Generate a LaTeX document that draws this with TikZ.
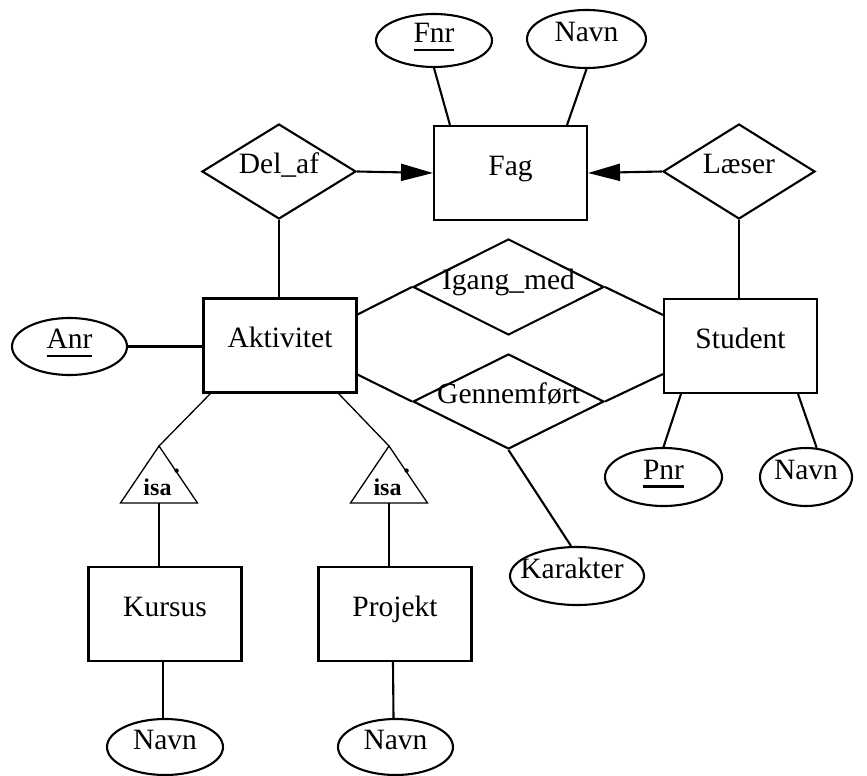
\documentclass[tikz,border=0pt]{standalone}
\usepackage{fontspec}
\setmainfont{Liberation Serif}
\usetikzlibrary{shapes.geometric,arrows.meta}
% centred label that does not widen its node
\newcommand\erlabel[1]{\makebox[0pt]{#1}}
% key attribute: text with a thick underline
\newcommand\keyattr[1]{\setbox0\hbox{#1}\rlap{\rule[-8.5pt]{\wd0}{2.3pt}}\box0}
\begin{document}
\begin{tikzpicture}[x=1pt,y=-1pt,
  every node/.style={font=\fontsize{29.5}{32}\selectfont, inner sep=0pt,
    text height=0.66em, text depth=0.24em},
  entity/.style={draw, line width=2.1pt, rectangle, minimum width=153pt, minimum height=94pt},
  relship/.style={draw, line width=2.1pt, diamond},
  attr/.style={draw, line width=2.1pt, ellipse},
  link/.style={line width=2.1pt},
  thinlink/.style={line width=1.3pt},
  tip/.style={-{Triangle[length=32pt,width=17pt]}},
  isatext/.style={font=\bfseries\fontsize{24}{26}\selectfont}
]
\useasboundingbox (0,0) rectangle (867,776);

% entities
\node[entity] (fag)  at (510.5,173)   {\erlabel{Fag}};
\node[entity] (akt)  at (280,345.5)   {\erlabel{Aktivitet}};
\node[entity] (stud) at (740.5,346)   {\erlabel{Student}};
\node[entity] (kurs) at (165,614)     {\erlabel{Kursus}};
\node[entity] (proj) at (395,614)     {\erlabel{Projekt}};

% relationships
\node[relship, minimum width=154pt, minimum height=95pt] (delaf)  at (279,171.5) {\erlabel{Del\_af}};
\node[relship, minimum width=152pt, minimum height=95pt] (laeser) at (739,171.5) {\erlabel{Læser}};
\node[relship, minimum width=191pt, minimum height=96pt] (igang)  at (508.5,287) {\erlabel{Igang\_med}};
\node[relship, minimum width=191pt, minimum height=95pt] (gen)    at (508.5,401.5) {\erlabel{Gennemført}};

% attributes
\node[attr, minimum width=116pt, minimum height=53pt] (fnr)   at (434,40.5)  {\erlabel{\keyattr{Fnr}}};
\node[attr, minimum width=119pt, minimum height=58pt] (navn1) at (586.5,39)  {\erlabel{Navn}};
\node[attr, minimum width=115pt, minimum height=57pt] (anr)   at (69.5,346.5) {\erlabel{\keyattr{Anr}}};
\node[attr, minimum width=117pt, minimum height=58pt] (pnr)   at (663.5,477) {\erlabel{\keyattr{Pnr}}};
\node[attr, minimum width=92pt,  minimum height=58pt] (navn2) at (806,477)   {\erlabel{Navn}};
\node[attr, minimum width=134pt, minimum height=58pt] (kar)   at (577,576)   {\erlabel{Karakter\kern10pt}};
\node[attr, minimum width=116pt, minimum height=56pt] (navn3) at (165,747)   {\erlabel{Navn}};
\node[attr, minimum width=115pt, minimum height=56pt] (navn4) at (395.5,747) {\erlabel{Navn}};

% isa triangles
\coordinate (isa1) at (159,446);
\coordinate (isa1base) at (159,503);
\coordinate (isa2) at (389,446);
\coordinate (isa2base) at (389,503);
\draw[thinlink] (isa1) -- ++(-38.5,57) -- ++(77,0) -- cycle;
\draw[thinlink] (isa2) -- ++(-38.5,57) -- ++(77,0) -- cycle;
\node[isatext] (isa1t) at (157.5,493) {isa};
\node[isatext] (isa2t) at (387.5,493) {isa};
\fill (176.6,470.6) circle (2.2pt);
\fill (406.6,470.6) circle (2.2pt);

% connectors
\draw[link] (fnr.south) -- ([xshift=17pt]fag.north west);
\draw[link] (navn1.south) -- ([xshift=-21pt]fag.north east);
\draw[link,tip] (delaf.east) -- (fag.west);
\draw[link,tip] (laeser.west) -- (fag.east);
\draw[link] (delaf.south) -- (delaf.south |- akt.north);
\draw[link] (laeser.south) -- (laeser.south |- stud.north);
\draw[link] (anr.east) -- (anr.east -| akt.west);
\draw[link] ([yshift=-17pt]akt.north east) -- (igang.west);
\draw[link] (igang.east) -- ([yshift=-17pt]stud.north west);
\draw[link] ([yshift=19pt]akt.south east) -- (gen.west);
\draw[link] (gen.east) -- ([yshift=20pt]stud.south west);
\draw[link] (gen.south) -- ([xshift=-6pt]kar.north);
\draw[link] ([xshift=18pt]stud.south west) -- (pnr.north);
\draw[link] ([xshift=-20pt]stud.south east) -- (navn2.70);
\draw[thinlink] ([xshift=8pt]akt.south west) -- (isa1);
\draw[thinlink] ([xshift=-19pt]akt.south east) -- (isa2);
\draw[thinlink] (isa1base) -- (isa1base |- kurs.north);
\draw[thinlink] (isa2base) -- (isa2base |- proj.north);
\draw[link] ([xshift=-2pt]kurs.south) -- ([xshift=-2pt]navn3.north);
\draw[link] ([xshift=-2pt]proj.south) -- ([xshift=-2pt]navn4.north);
\end{tikzpicture}
\end{document}
